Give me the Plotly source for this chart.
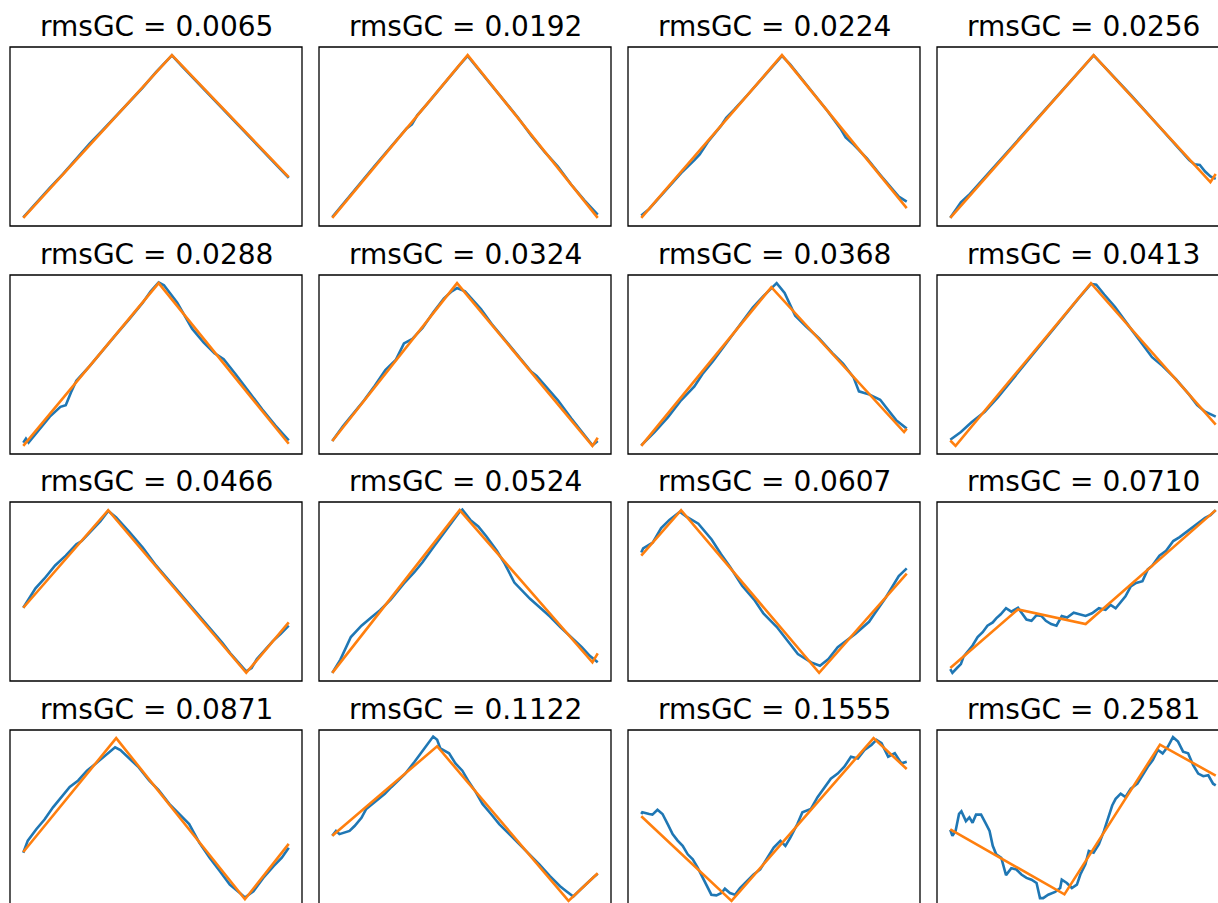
import plotly.graph_objects as go

# ---------------- data ----------------
titles = ["rmsGC = 0.0065", "rmsGC = 0.0192", "rmsGC = 0.0224", "rmsGC = 0.0256",
          "rmsGC = 0.0288", "rmsGC = 0.0324", "rmsGC = 0.0368", "rmsGC = 0.0413",
          "rmsGC = 0.0466", "rmsGC = 0.0524", "rmsGC = 0.0607", "rmsGC = 0.0710",
          "rmsGC = 0.0871", "rmsGC = 0.1122", "rmsGC = 0.1555", "rmsGC = 0.2581"]

p01_bx = [0, 5, 10, 15, 20, 25, 30, 35, 40, 45, 50, 56, 60, 65, 70, 75, 80, 85, 90, 95, 100]
p01_by = [0.3, 9.5, 18.4, 27.0, 36.4, 45.6, 54.0, 62.8, 71.0, 80.1, 89.6, 99.8, 92.8, 84.3, 75.8, 67.1, 58.8, 50.2, 41.6, 33.0, 24.6]
p01_fx = [0, 56, 100]
p01_fy = [0, 100, 25]

p02_bx = [0, 4, 8, 12, 16, 20, 24, 28, 30, 32, 36, 40, 44, 48, 51, 55, 60, 65, 70, 75, 80, 85, 90, 95, 100]
p02_by = [0.5, 8.5, 16.5, 24, 32, 39.6, 47.5, 55, 57.5, 63, 70.5, 78.5, 86, 94, 99.5, 91.5, 81.8, 71.4, 61.5, 50.5, 40.5, 31.5, 20.5, 10.8, 2]
p02_fx = [0, 51, 100]
p02_fy = [0, 100, 0]

p03_bx = [0, 3, 6, 10, 15, 20, 22, 25, 30, 32, 35, 40, 45, 50, 53, 56, 60, 65, 70, 75, 77, 80, 85, 90, 95, 97, 100]
p03_by = [1.4, 5.5, 11, 18.5, 27.5, 35.5, 39, 46.5, 56.5, 61.5, 66.5, 75.5, 84.5, 94, 99.5, 94.5, 86.5, 76, 66, 55, 49.5, 45, 36.5, 26.5, 17, 13, 10]
p03_fx = [0, 53, 100]
p03_fy = [0, 100, 6]

p04_bx = [0, 2, 4, 7, 10, 13, 17, 21, 25, 30, 35, 40, 45, 50, 54, 58, 63, 68, 73, 78, 83, 88, 90, 92, 94, 96, 98, 100]
p04_by = [0, 5, 9.5, 14, 19.5, 25, 32, 39.5, 47, 56, 65, 74, 83.5, 92.5, 99.8, 93, 84.5, 75.5, 66.5, 57.5, 48.5, 39.5, 35.5, 33, 32.5, 28.5, 25.5, 24]
p04_fx = [0, 54, 98, 100]
p04_fy = [0, 100, 22, 27]

p05_bx = [0, 1, 2, 5, 10, 14, 16, 18, 20, 25, 30, 35, 40, 45, 48, 51, 53, 58, 63.6, 68, 72, 75.5, 80, 85, 90, 95, 100]
p05_by = [2, 4.5, 2, 8, 18, 24, 25, 33, 40, 49, 59, 68.5, 78, 88, 95, 100.5, 98.7, 88, 72, 63.5, 57, 53.3, 44, 33, 22.5, 12.5, 3.4]
p05_fx = [0, 51, 100]
p05_fy = [0, 100, 1.3]

p06_bx = [0, 4, 8, 12, 16, 20, 24, 27, 30, 34, 38, 42, 45, 47, 50, 52, 56, 60, 63, 66, 70, 75, 77, 80, 85, 90, 94, 98, 100]
p06_by = [3, 12, 20, 28, 37, 46.5, 53, 63, 65.5, 72.5, 82, 90.5, 95, 97, 95, 91.5, 84, 75, 69, 63, 55, 45.5, 43, 37.5, 28, 17, 9, 0.3, 3]
p06_fx = [0, 47, 98, 100]
p06_fy = [3, 100, 0, 5]

p07_bx = [0, 5, 10, 15, 20, 23, 27, 32, 37, 42, 46, 49, 51, 54, 58, 62, 67, 72, 76, 80, 82, 86, 90, 93, 96, 100]
p07_by = [0.3, 8.5, 17.5, 28, 36.5, 44, 52, 63, 74.5, 85, 92, 97, 100, 94, 80, 73.5, 66, 57, 50.5, 42, 33.5, 31.5, 28.3, 22, 15.8, 10.6]
p07_fx = [0, 49, 99, 100]
p07_fy = [0, 97.5, 8.5, 10.6]

p08_bx = [0, 4, 8, 13, 18, 23, 28, 33, 38, 43, 48, 53, 55, 58, 62, 66, 70, 73, 76, 80, 85, 90, 93, 96, 98, 100]
p08_by = [3.8, 8.5, 14.5, 21, 30, 40, 50, 60, 70.5, 80, 90, 99.5, 99, 93, 85.5, 76.5, 67.5, 61, 54.5, 49, 41, 31.5, 25, 21, 19.5, 18]
p08_fx = [0, 2, 53, 100]
p08_fy = [3.3, 0, 100, 13]

p09_bx = [0, 2, 4.6, 8, 12, 16, 20, 22, 26, 29, 32, 35, 40, 45, 50, 55, 60, 65, 70, 75, 78, 81, 84, 86, 88, 91, 94, 97, 100]
p09_by = [40, 45, 52, 58, 66, 72, 79, 81, 87.5, 93, 99.5, 95.5, 86.5, 77, 66, 56.5, 46.5, 37.5, 28, 18.5, 12, 6.5, 1, 3, 8.5, 14, 19.5, 24, 29]
p09_fx = [0, 32, 84, 100]
p09_fy = [40, 100, 0, 31]

p10_bx = [0, 3, 7, 11, 15, 18, 22, 27, 31, 34, 38, 42, 45, 48, 49, 52, 55, 58, 62, 65, 68.6, 72, 74.5, 78, 82, 86, 90, 94, 97, 99, 100]
p10_by = [0, 8, 22, 29, 34.5, 38.5, 45, 55, 62, 68, 77, 85.5, 92, 99, 100.3, 94, 90, 84, 75, 67, 55.5, 50, 45.5, 40.5, 34.6, 28, 22, 15.8, 10.5, 7.5, 6.5]
p10_fx = [0, 48, 98, 100]
p10_fy = [0, 100, 6.5, 12]

p11_bx = [0, 0.7, 4.3, 7.5, 10.6, 14.5, 17, 21.5, 26.5, 30, 33.6, 38, 42.5, 46, 51, 55, 59, 64, 67.3, 70.5, 74, 80.7, 85.8, 88, 92, 97, 100]
p11_by = [74, 76.5, 80, 89, 94, 99, 96, 91.7, 82, 73, 64.7, 53.5, 45, 36.6, 28.3, 20, 11.6, 6.4, 4.4, 8.5, 15.8, 24, 31.4, 36.6, 46, 59.5, 64.2]
p11_fx = [0, 15, 67, 100]
p11_fy = [72, 100, 0, 61]

p12_bx = [0, 0.8, 2.7, 4, 5, 7, 8.4, 10.3, 12.2, 14, 16, 17.3, 19, 21, 23, 25.5, 27.4, 28.7, 30.6, 32.5, 34.4,
          36, 38, 40, 42, 44, 46.5, 49, 51, 53.4, 56, 58.5, 60.4, 62.3, 64, 66, 68, 70, 72.4, 74.4, 76, 78.8,
          81.3, 84, 86.4, 89, 91.5, 94, 96, 98, 100]
p12_by = [2.3, 0, 3.3, 5.4, 10, 13.7, 16.8, 22, 25, 29, 31, 33.5, 36, 39.7, 37.6, 40, 35.5, 32.8, 32, 35.5, 34.9,
          32, 30, 29, 34.9, 34, 37, 36, 35, 36.6, 39.7, 38.7, 41.8, 39.7, 42.8, 47, 53.2, 55.3, 56.3, 63.6, 65.7, 72,
          75, 81, 83.4, 86.5, 89.6, 92.7, 95.2, 96.9, 100]
p12_fx = [0, 25.5, 51, 100]
p12_fy = [3, 39, 30, 100]

p13_bx = [0, 1.7, 4.9, 8, 11.2, 15, 17.5, 20.7, 24, 27, 31, 34.6, 36.6, 40, 43.5, 47.4, 51, 55, 58.7, 62.5,
          66.3, 70.2, 74, 77.8, 81.6, 83.5, 86.7, 90.4, 94.3, 97.4, 100]
p13_by = [29.6, 37, 44, 50, 57.5, 64.8, 70, 74, 80, 84, 89.5, 94.4, 92.7, 87.5, 82, 74, 68, 59.6, 53.4, 47.2,
          35.8, 26.5, 18.3, 10, 4.8, 2.1, 5.9, 14.1, 21.4, 26.5, 32.7]
p13_fx = [0, 35, 83.5, 100]
p13_fy = [30, 100, 1, 35]

p14_bx = [0, 1.4, 2.7, 4.6, 6.5, 8.4, 11, 12.8, 16, 19.8, 22.3, 24.9, 27.4, 31, 34.4, 36.3, 38, 39.5, 40.7, 44,
          46.4, 49, 51.5, 54, 56.6, 59.8, 62.9, 66.7, 70.5, 74.4, 78, 82, 85.8, 88.3, 90.8, 93.4, 96, 98.4, 100]
p14_by = [40, 43, 41, 42, 43, 46, 51, 56.5, 60.6, 65.8, 70, 74, 78, 85.5, 92.7, 97.3, 101, 99, 93.7, 90.7,
          84.5, 80, 73, 67, 59.6, 53.4, 47.2, 41, 34.8, 28.6, 22.4, 15.2, 9, 5.8, 2.7, 6.8, 11, 14.5, 16.6]
p14_fx = [0, 39.5, 89, 100]
p14_fy = [40, 95, 0, 17]

p15_bx = [0, 0.4, 3, 4.2, 6.1, 8, 10, 11.8, 13.7, 15.6, 17.5, 19.4, 21.3, 23.3, 25.1, 26.4, 28.3, 30.2, 31.5,
          33.4, 35.3, 37.2, 39.7, 42.3, 44.8, 47.4, 49.9, 52.4, 54.3, 56.2, 58.8, 60.7, 63.9, 66.4, 69, 71.4, 74,
          76.5, 79, 81.6, 84.1, 86.7, 88.6, 90.5, 93, 95.5, 98, 100]
p15_by = [53.4, 54.4, 53.4, 53, 56, 53.4, 47, 41, 37, 33.8, 28.6, 25.5, 20.3, 14.1, 7.9, 3.8, 3.4, 4.8, 7.5,
          4.8, 3.8, 7.9, 12, 16.2, 19.3, 26.5, 32.7, 36.9, 33.8, 39, 47.2, 54.4, 56.5, 63.7, 70, 75.1, 78.2,
          82.4, 88.6, 87.5, 92.7, 95.8, 98.9, 96.9, 88.6, 90.7, 84.5, 85.5]
p15_fx = [0, 34, 87.5, 100]
p15_fy = [52, 0, 100, 81]

p16_bx = [0, 0.8, 2, 3.3, 4.2, 5.9, 7.2, 8.4, 9.7, 11.6, 13.5, 14.8, 16, 17.3, 19.2, 21, 23, 24.9, 26.8, 28.7,
          30.6, 32.5, 33.8, 35, 36.9, 39.5, 41.4, 42, 43.9, 45.8, 47.7, 49, 50.9, 52.2, 54, 56, 57.9, 59.1, 61,
          62.3, 64.2, 66, 68, 70.5, 72.4, 74.4, 76.3, 78.2, 80, 82, 83.9, 85.8, 87.7, 89.6, 91.5, 93.4, 95.3,
          97.2, 99, 100]
p16_by = [43.7, 40, 43, 53.4, 55, 49, 51.3, 48, 53, 53, 47.2, 43, 33.8, 28.6, 26.5, 15.8, 20, 19.3, 16.2, 14.1,
          13, 11, 1.7, 1.7, 3.8, 5.5, 7.9, 13, 11, 7.9, 10, 16.2, 22.4, 30.7, 29.6, 34.8, 43, 49, 58.6,
          62.7, 65.9, 63.8, 69, 72, 77.2, 82.4, 86.5, 92.7, 90.6, 94.8, 100.6, 97.9, 91.7, 90.7, 83.4, 78.2, 76.6,
          77.2, 72, 71]
p16_fx = [0, 43, 79, 100]
p16_fy = [44, 4, 96, 77]

blue_x = [p01_bx, p02_bx, p03_bx, p04_bx, p05_bx, p06_bx, p07_bx, p08_bx,
          p09_bx, p10_bx, p11_bx, p12_bx, p13_bx, p14_bx, p15_bx, p16_bx]
blue_y = [p01_by, p02_by, p03_by, p04_by, p05_by, p06_by, p07_by, p08_by,
          p09_by, p10_by, p11_by, p12_by, p13_by, p14_by, p15_by, p16_by]
fit_x = [p01_fx, p02_fx, p03_fx, p04_fx, p05_fx, p06_fx, p07_fx, p08_fx,
         p09_fx, p10_fx, p11_fx, p12_fx, p13_fx, p14_fx, p15_fx, p16_fx]
fit_y = [p01_fy, p02_fy, p03_fy, p04_fy, p05_fy, p06_fy, p07_fy, p08_fy,
         p09_fy, p10_fy, p11_fy, p12_fy, p13_fy, p14_fy, p15_fy, p16_fy]

# ---------------- layout ----------------
W, H = 1218, 903
PW, PH = 292, 179
COL_X = [10, 319, 628, 937]
ROW_Y = [47, 275, 502, 730]
X_LIM = (-5, 105)
Y_LIM = (-5, 105)
BLUE, ORANGE = "#1f77b4", "#ff7f0e"
FONT = "DejaVu Sans"

fig = go.Figure()
layout = dict(width=W, height=H, margin=dict(l=0, r=0, t=0, b=0),
              paper_bgcolor="white", plot_bgcolor="white", showlegend=False)
shapes, annotations = [], []

for i in range(16):
    r, c = divmod(i, 4)
    L, T = COL_X[c], ROW_Y[r]
    R, B = L + PW, T + PH
    vR, vB = min(R, W), min(B, H)
    xr = [X_LIM[0], X_LIM[0] + (X_LIM[1] - X_LIM[0]) * (vR - L) / PW]
    yr = [Y_LIM[1] - (Y_LIM[1] - Y_LIM[0]) * (vB - T) / PH, Y_LIM[1]]
    n = "" if i == 0 else str(i + 1)
    ax = dict(showgrid=False, zeroline=False, showticklabels=False, ticks="",
              showline=False, fixedrange=True)
    layout["xaxis" + n] = dict(ax, domain=[L / W, vR / W], range=xr, anchor="y" + n)
    layout["yaxis" + n] = dict(ax, domain=[1 - vB / H, 1 - T / H], range=yr, anchor="x" + n)

    fig.add_trace(go.Scatter(x=blue_x[i], y=blue_y[i], mode="lines",
                             line=dict(color=BLUE, width=2.6),
                             xaxis="x" + n, yaxis="y" + n, hoverinfo="skip"))
    fig.add_trace(go.Scatter(x=fit_x[i], y=fit_y[i], mode="lines",
                             line=dict(color=ORANGE, width=2.6),
                             xaxis="x" + n, yaxis="y" + n, hoverinfo="skip"))

    shapes.append(dict(type="rect", xref="paper", yref="paper",
                       x0=L / W, x1=R / W, y0=1 - B / H, y1=1 - T / H,
                       line=dict(color="black", width=1.3), fillcolor="rgba(0,0,0,0)",
                       layer="above"))
    annotations.append(dict(text=titles[i], xref="paper", yref="paper",
                            x=(L + R) / 2 / W, y=1 - T / H, xanchor="center", yanchor="bottom",
                            yshift=2, showarrow=False,
                            font=dict(family=FONT, size=28, color="black")))

layout["shapes"] = shapes
layout["annotations"] = annotations
fig.update_layout(**layout)
fig.write_html("out.html")
